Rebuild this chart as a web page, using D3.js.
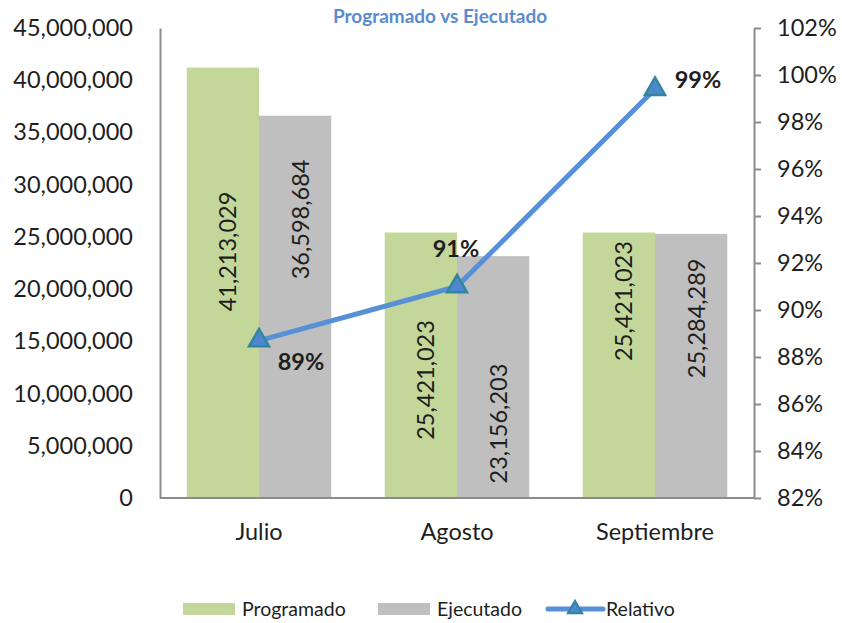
<!DOCTYPE html>
<html><head><meta charset="utf-8">
<script src="https://cdn.jsdelivr.net/npm/d3@7"></script>
<style>
body{margin:0;background:#fff}
svg text{font-family:Lato,"Open Sans",sans-serif;fill:#1e1e1e}
</style>
</head><body>
<svg id="chart" width="842" height="623"></svg>
<script>
// ---- data ----
const categories = ["Julio", "Agosto", "Septiembre"];
const seriesNames = ["Programado", "Ejecutado", "Relativo"];
const programado = [41213029, 25421023, 25421023];
const ejecutado = [36598684, 23156203, 25284289];
const relativo = [0.887, 0.910, 0.994];
const relativoLabels = ["89%", "91%", "99%"];
const leftTicks = [0, 5000000, 10000000, 15000000, 20000000, 25000000, 30000000, 35000000, 40000000, 45000000];
const rightTicks = [0.82, 0.84, 0.86, 0.88, 0.90, 0.92, 0.94, 0.96, 0.98, 1.00, 1.02];

// ---- layout (placement of labels, not data) ----
const progLabelAt = [23600000, 11300000, 18860000];   // label centre along value axis
const ejecLabelAt = [26670000, 7130000, 17200000];
const pctLabelOffset = [[42, 29], [-1, -30], [43, -1]];
const legendX = [183, 378, 548];

const colors = {prog: "#C4D79B", ejec: "#BFBFBF", line: "#5890D8", marker: "#4F86D0", markerStroke: "#31859C", axis: "#8C8C8C", title: "#5A8BD0"};
const FS = 23.5;

const svg = d3.select("#chart");
const L = 160, R = 754, T = 28, B = 498;

const x0 = d3.scaleBand().domain(categories).range([L, R]).paddingInner(0.27).paddingOuter(0.135);
const x1 = d3.scaleBand().domain(["Programado", "Ejecutado"]).range([0, x0.bandwidth()]);
const yL = d3.scaleLinear().domain([0, 45000000]).range([B, T]);
const yR = d3.scaleLinear().domain([0.82, 1.02]).range([B, T]);

// title
svg.append("text").attr("x", 440).attr("y", 23).attr("text-anchor", "middle")
  .style("font-weight", "bold").style("font-size", "19px").style("fill", colors.title)
  .text("Programado vs Ejecutado");

// bars
const rows = categories.map((c, i) => ({c, i, vals: [
  {k: "Programado", v: programado[i], at: progLabelAt[i], col: colors.prog},
  {k: "Ejecutado", v: ejecutado[i], at: ejecLabelAt[i], col: colors.ejec}]}));

const g = svg.append("g").selectAll("g").data(rows).join("g")
  .attr("transform", d => `translate(${x0(d.c)},0)`);
g.selectAll("rect").data(d => d.vals).join("rect")
  .attr("x", d => x1(d.k)).attr("width", x1.bandwidth())
  .attr("y", d => yL(d.v)).attr("height", d => B - yL(d.v))
  .attr("fill", d => d.col);
g.selectAll("text.bl").data(d => d.vals).join("text").attr("class", "bl")
  .attr("transform", d => `translate(${x1(d.k) + x1.bandwidth() / 2 + 5},${yL(d.at)}) rotate(-90)`)
  .attr("text-anchor", "middle").attr("dy", "0.36em")
  .style("font-size", FS + "px")
  .text(d => d3.format(",")(d.v));

// axes
const axL = svg.append("g").attr("transform", `translate(${L},0)`)
  .call(d3.axisLeft(yL).tickValues(leftTicks).tickSize(0).tickPadding(27).tickFormat(d3.format(",")));
const axR = svg.append("g").attr("transform", `translate(${R},0)`)
  .call(d3.axisRight(yR).tickValues(rightTicks).tickSizeInner(7).tickSizeOuter(0).tickPadding(16).tickFormat(d3.format(".0%")));
const axB = svg.append("g").attr("transform", `translate(0,${B})`)
  .call(d3.axisBottom(x0).tickSize(0).tickPadding(25));
[axL, axR, axB].forEach(a => {
  a.select(".domain").attr("stroke", colors.axis).attr("stroke-width", 2);
  a.selectAll(".tick line").attr("stroke", colors.axis).attr("stroke-width", 2);
  a.selectAll(".tick text").style("font-size", FS + "px").style("fill", "#1e1e1e").attr("font-family", null);
});
axB.select(".domain").attr("d", `M${L},0H${R}`);

// line
const cx = c => x0(c) + x0.bandwidth() / 2;
const pts = categories.map((c, i) => ({c, i, v: relativo[i]}));
svg.append("path").datum(pts)
  .attr("fill", "none").attr("stroke", colors.line).attr("stroke-width", 5).attr("stroke-linejoin", "round")
  .attr("d", d3.line().x(d => cx(d.c)).y(d => yR(d.v)));
const tri = d3.symbol().type(d3.symbolTriangle).size(175);
svg.append("g").selectAll("path").data(pts).join("path")
  .attr("transform", d => `translate(${cx(d.c)},${yR(d.v)})`)
  .attr("d", tri()).attr("fill", colors.marker).attr("stroke", colors.markerStroke).attr("stroke-width", 2.5);
svg.append("g").selectAll("text").data(pts).join("text")
  .attr("x", d => cx(d.c) + pctLabelOffset[d.i][0]).attr("y", d => yR(d.v) + pctLabelOffset[d.i][1])
  .attr("text-anchor", "middle").style("font-weight", "bold").style("font-size", FS + "px")
  .text(d => relativoLabels[d.i]);

// legend
const LY = 609;
const lg = svg.append("g");
seriesNames.forEach((name, i) => {
  const x = legendX[i];
  if (i < 2) {
    lg.append("rect").attr("x", x).attr("y", LY - 6).attr("width", 52).attr("height", 12)
      .attr("fill", i === 0 ? colors.prog : colors.ejec);
  } else {
    lg.append("line").attr("x1", x).attr("x2", x + 55).attr("y1", LY).attr("y2", LY)
      .attr("stroke", colors.line).attr("stroke-width", 5).attr("stroke-linecap", "round");
    lg.append("path").attr("transform", `translate(${x + 27},${LY})`)
      .attr("d", d3.symbol().type(d3.symbolTriangle).size(90)()).attr("fill", colors.marker)
      .attr("stroke", colors.markerStroke).attr("stroke-width", 2);
  }
  lg.append("text").attr("x", x + (i < 2 ? 59 : 58)).attr("y", LY).attr("dy", "0.35em")
    .style("font-size", "19.5px").text(name);
});
</script>
</body></html>
